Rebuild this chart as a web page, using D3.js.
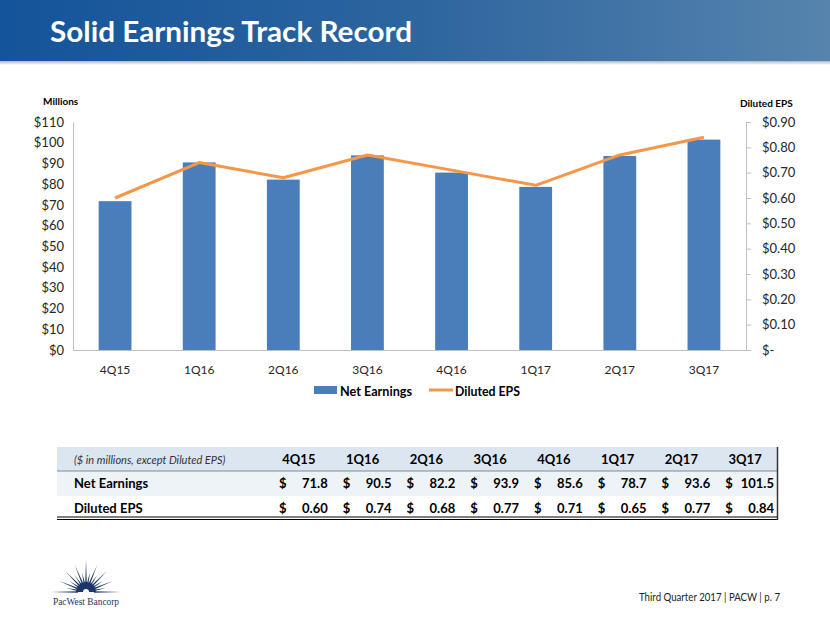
<!DOCTYPE html>
<html><head><meta charset="utf-8">
<script src="https://cdn.jsdelivr.net/npm/d3@7"></script>
<style>
body{margin:0;background:#fff;}
svg{display:block;font-family:Lato,"Open Sans",sans-serif;}
</style></head>
<body>
<svg id="c" width="830" height="623"></svg>
<script>
const categories = ["4Q15","1Q16","2Q16","3Q16","4Q16","1Q17","2Q17","3Q17"];
const netEarnings = [71.8, 90.5, 82.2, 93.9, 85.6, 78.7, 93.6, 101.5];
const dilutedEPS = [0.60, 0.74, 0.68, 0.77, 0.71, 0.65, 0.77, 0.84];
const leftTicks = [0,10,20,30,40,50,60,70,80,90,100,110];
const rightTicks = [0,0.1,0.2,0.3,0.4,0.5,0.6,0.7,0.8,0.9];
const netLabels = ["71.8","90.5","82.2","93.9","85.6","78.7","93.6","101.5"];
const epsLabels = ["0.60","0.74","0.68","0.77","0.71","0.65","0.77","0.84"];

const svg = d3.select("#c");
const defs = svg.append("defs");
const g1 = defs.append("linearGradient").attr("id","hdr").attr("x1","0").attr("x2","1").attr("y1","0").attr("y2","0");
g1.append("stop").attr("offset","0").attr("stop-color","#14549a");
g1.append("stop").attr("offset","0.5").attr("stop-color","#2d659f");
g1.append("stop").attr("offset","1").attr("stop-color","#5684ad");
const g2 = defs.append("linearGradient").attr("id","shd").attr("x1","0").attr("x2","0").attr("y1","0").attr("y2","1");
g2.append("stop").attr("offset","0").attr("stop-color","#9aa6b4");
g2.append("stop").attr("offset","1").attr("stop-color","#ffffff");

// header
svg.append("rect").attr("x",0).attr("y",60).attr("width",830).attr("height",5).attr("fill","url(#shd)");
svg.append("rect").attr("x",0).attr("y",0).attr("width",830).attr("height",61).attr("fill","url(#hdr)");
svg.append("text").attr("x",50).attr("y",42).attr("fill","#fff").attr("font-weight","bold")
  .attr("font-size",29).attr("textLength",362).attr("lengthAdjust","spacingAndGlyphs").text("Solid Earnings Track Record");

// chart
const x0 = 73, x1 = 746, yTop = 122, yBot = 350;
const x = d3.scaleBand().domain(categories).range([x0,x1]).paddingInner(0.61).paddingOuter(0.305);
const yL = d3.scaleLinear().domain([0,110]).range([yBot,yTop]);
const yR = d3.scaleLinear().domain([0,0.9]).range([yBot,yTop]);

svg.append("g").selectAll("rect").data(netEarnings).join("rect")
  .attr("x",(d,i)=>x(categories[i])).attr("width",x.bandwidth())
  .attr("y",d=>yL(d)).attr("height",d=>yBot-yL(d)).attr("fill","#4a7ebb");

const line = d3.line().x((d,i)=>x(categories[i])+x.bandwidth()/2).y(d=>yR(d));
svg.append("path").datum(dilutedEPS).attr("d",line).attr("fill","none").attr("stroke","#f79646").attr("stroke-width",3).attr("stroke-linejoin","round");

// axes
const axL = svg.append("g").attr("transform",`translate(${x0},0)`)
  .call(d3.axisLeft(yL).tickValues(leftTicks).tickSize(0).tickPadding(9).tickFormat(d=>"$"+d));
axL.select(".domain").attr("stroke","#bfbfbf");
axL.selectAll("text").attr("font-size",13).attr("fill","#262626").attr("font-family","Lato,sans-serif");

const axR = svg.append("g").attr("transform",`translate(${x1},0)`)
  .call(d3.axisRight(yR).tickValues(rightTicks).tickSize(5).tickPadding(11).tickFormat(d=>d===0?"$-":"$"+d.toFixed(2)));
axR.select(".domain").attr("stroke","#bfbfbf");
axR.selectAll("line").attr("stroke","#bfbfbf");
axR.selectAll("text").attr("font-size",13).attr("fill","#262626").attr("font-family","Lato,sans-serif");

const axB = svg.append("g").attr("transform",`translate(0,${yBot})`)
  .call(d3.axisBottom(x).tickSize(0).tickPadding(15));
axB.select(".domain").attr("stroke","#bfbfbf");
axB.selectAll("text").attr("font-size",12).attr("fill","#262626").attr("font-family","Lato,sans-serif");

svg.append("text").attr("x",43).attr("y",105).attr("font-size",10).attr("font-weight","bold").attr("fill","#000").text("Millions");
svg.append("text").attr("x",740).attr("y",107).attr("font-size",10).attr("font-weight","bold").attr("fill","#000").text("Diluted EPS");

// legend
svg.append("rect").attr("x",314).attr("y",386).attr("width",23).attr("height",8).attr("fill","#4a7ebb");
svg.append("text").attr("x",340).attr("y",396).attr("font-size",13).attr("font-weight","bold").attr("fill","#000")
  .attr("textLength",72).attr("lengthAdjust","spacingAndGlyphs").text("Net Earnings");
svg.append("line").attr("x1",429).attr("x2",453).attr("y1",390).attr("y2",390).attr("stroke","#f79646").attr("stroke-width",3);
svg.append("text").attr("x",455).attr("y",396).attr("font-size",13).attr("font-weight","bold").attr("fill","#000")
  .attr("textLength",65).attr("lengthAdjust","spacingAndGlyphs").text("Diluted EPS");

// table
const tL = 57, tR = 777, colStart = 267;
const cw = (tR - colStart)/categories.length;
svg.append("rect").attr("x",tL).attr("y",447).attr("width",tR-tL).attr("height",24).attr("fill","#dce6f1");
svg.append("rect").attr("x",tL).attr("y",471).attr("width",tR-tL).attr("height",25).attr("fill","#eef3f8");
svg.append("line").attr("x1",tL).attr("x2",tR).attr("y1",471).attr("y2",471).attr("stroke","#7f8a96").attr("stroke-width",1);
svg.append("line").attr("x1",tL).attr("x2",tR+1).attr("y1",517).attr("y2",517).attr("stroke","#000").attr("stroke-width",1);
svg.append("line").attr("x1",tL).attr("x2",tR+1).attr("y1",519.5).attr("y2",519.5).attr("stroke","#000").attr("stroke-width",1);
svg.append("line").attr("x1",tR+0.5).attr("x2",tR+0.5).attr("y1",447).attr("y2",520).attr("stroke","#333").attr("stroke-width",1.5);

svg.append("text").attr("x",74).attr("y",464).attr("font-size",11).attr("font-style","italic").attr("fill","#333").text("($ in millions, except Diluted EPS)");
svg.append("text").attr("x",74).attr("y",488).attr("font-size",13).attr("font-weight","bold").attr("fill","#000").text("Net Earnings");
svg.append("text").attr("x",74).attr("y",513).attr("font-size",13).attr("font-weight","bold").attr("fill","#000").text("Diluted EPS");

const tg = svg.append("g").attr("font-size",13).attr("font-weight","bold").attr("fill","#000");
tg.selectAll(".h").data(categories).join("text").attr("class","h")
  .attr("x",(d,i)=>colStart+cw*i+cw/2).attr("y",464).attr("text-anchor","middle").text(d=>d);
[[netLabels,488],[epsLabels,513]].forEach(([arr,yy])=>{
  tg.selectAll(null).data(arr).join("text").attr("x",(d,i)=>colStart+cw*i+12).attr("y",yy).text("$");
  tg.selectAll(null).data(arr).join("text").attr("x",(d,i)=>colStart+cw*(i+1)-3).attr("y",yy).attr("text-anchor","end").text(d=>d);
});

// footer
svg.append("text").attr("x",780).attr("y",601).attr("text-anchor","end").attr("font-size",11).attr("fill","#222")
  .attr("textLength",141).attr("lengthAdjust","spacingAndGlyphs").text("Third Quarter 2017 | PACW | p. 7");

// logo starburst
const lg = svg.append("g").attr("transform","translate(86,592)");
const nR = 17;
for (let k=0;k<nR;k++){
  const a = Math.PI + (k/(nR-1))*Math.PI;
  let len = (k%2===0)?29:20;
  if (k===0||k===nR-1) len = 35;
  if (k===(nR-1)/2) len = 32;
  const w = 0.1;
  const r0 = 8;
  const p = [[Math.cos(a-w)*r0, Math.sin(a-w)*r0],[Math.cos(a)*len, Math.sin(a)*len],[Math.cos(a+w)*r0, Math.sin(a+w)*r0]];
  lg.append("path").attr("d","M"+p.map(q=>q.map(v=>v.toFixed(2)).join(",")).join("L")+"Z").attr("fill","#1b3668");
}
lg.append("path").attr("d","M-10,0 A10,10 0 0 1 10,0 Z").attr("fill","#1b3668");
lg.append("path").attr("d","M-3,0 A3,3 0 0 1 3,0 Z").attr("fill","#fff");
svg.append("text").attr("x",86).attr("y",605).attr("text-anchor","middle").attr("font-family","'Liberation Serif',serif").attr("font-size",11).attr("fill","#1b3668")
  .attr("textLength",66).attr("lengthAdjust","spacingAndGlyphs").text("PacWest Bancorp");
</script>
</body></html>
